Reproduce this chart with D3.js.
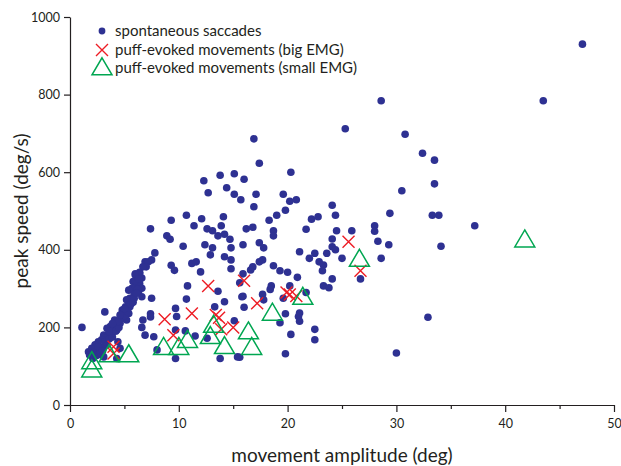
<!DOCTYPE html>
<html>
<head>
<meta charset="utf-8">
<script src="https://cdn.jsdelivr.net/npm/d3@7"></script>
<style>
  body { margin: 0; background: #fff; }
  text { font-family: Lato, "Open Sans", sans-serif; fill: #231f20; }
</style>
</head>
<body>
<svg id="chart"></svg>
<script>
// spontaneous saccades: [amplitude (deg), peak speed (deg/s)]
const saccades = [
  [47.1,930],[28.6,784],[43.5,784],[25.3,712],[30.8,698],[32.4,649],[33.5,631],[33.5,570],[30.5,552],
  [24.1,515],[24.4,489],[29.4,494],[33.3,489],[33.9,489],[37.2,462],[28.0,462],[28.0,448],[24.5,449],
  [25.9,449],[24.1,428],[28.3,422],[29.3,413],[34.1,409],[24.1,408],[24.4,400],[25.0,378],[28.6,378],
  [26.7,325],[32.9,226],[30.0,134],
  [17.4,623],[20.3,600],[17.1,543],[19.6,543],[16.9,511],[20.2,525],[20.8,529],[19.8,502],[19.0,489],
  [18.3,476],[16.8,458],[18.7,449],[18.7,436],[21.7,453],[22.2,479],[22.8,485],[17.4,418],[17.8,405],
  [21.1,395],[22.5,391],[22.0,378],[23.6,391],[17.7,374],[17.4,369],[16.8,356],[16.6,348],[18.7,359],
  [19.3,346],[20.0,342],[22.9,369],[23.3,361],[23.2,346],[20.9,329],[24.1,325],[23.3,307],[23.8,302],
  [18.5,307],[18.4,298],[20.2,307],[17.7,285],[17.8,271],[19.6,275],[21.7,290],[19.8,235],[21.1,237],
  [21.0,228],[21.1,216],[19.3,212],[20.3,182],[22.5,195],[22.5,168],[15.8,279],[16.0,252],[19.8,132],
  [15.6,123],
  [16.9,686],[13.8,592],[15.1,596],[16.0,582],[12.3,578],[14.4,560],[12.7,547],[15.1,543],[15.7,529],
  [10.7,489],[9.3,476],[12.1,480],[11.4,462],[12.6,454],[13.1,449],[14.1,485],[13.9,462],[13.6,436],
  [14.2,440],[14.7,427],[16.2,454],[7.4,454],[8.9,436],[9.2,427],[10.4,409],[12.4,413],[13.1,405],
  [14.8,405],[15.9,413],[7.8,392],[7.5,374],[12.9,387],[14.2,382],[14.8,374],[14.8,351],[9.3,360],
  [9.6,347],[11.2,365],[11.6,369],[12.0,343],[15.9,338],[15.6,315],[10.8,307],[13.6,293],[15.9,280],
  [10.7,273],[7.5,275],
  [14.2,266],[13.3,253],[9.7,249],[9.8,228],[9.7,193],[10.6,191],[11.5,178],[9.7,120],[12.6,172],
  [13.8,120],[15.1,217],[15.4,124],[7.4,235],
  [6.9,369],[7.2,369],[7.0,356],[6.7,356],[6.0,338],[6.4,342],[6.6,327],[6.4,339],[6.0,335],[5.8,318],
  [6.4,313],[6.1,309],[6.6,301],[5.7,301],[5.4,296],[6.3,292],[6.6,279],[5.5,275],[5.2,271],[5.4,258],
  [5.1,253],[5.5,253],[4.8,245],[4.9,236],[5.4,236],[5.2,219],[3.2,240],[4.1,219],[4.6,211],[4.1,206],
  [4.0,198],[4.3,193],[3.7,202],[3.4,198],[3.8,185],[3.5,180],[3.1,180],[3.2,172],[2.9,168],[2.6,163],
  [2.3,155],[2.0,146],[1.7,137],[1.8,129],[2.3,137],[2.8,146],[3.1,150],[3.2,163],[3.4,155],[4.4,163],
  [4.6,146],[4.3,120],[3.1,124],[1.1,200],[6.7,219],[6.6,200],[6.9,180],[7.4,227],[7.7,176],[8.0,142],
  [2.1,120],[2.5,128],[2.8,135],[3.6,170],[3.9,175],[4.2,190],[4.5,200],[4.7,225],[5.0,230],[5.6,260],
  [5.8,265],[5.9,285],[6.2,298],[6.0,320],[6.3,325],[5.3,240],[4.4,215],[2.6,150],[2.0,130],[3.0,140],
  [3.6,190],[5.9,275],[6.1,288],[5.0,248],[4.6,232],[3.9,210]
];

// puff-evoked movements (big EMG)
const bigEMG = [
  [4.0,150],[4.0,133],[8.7,221],[9.5,180],[11.2,236],[12.7,307],[13.4,232],[13.7,225],[13.9,195],
  [15.0,200],[16.0,320],[17.2,262],[19.9,290],[20.2,285],[20.8,281],[25.6,421],[26.7,346]
];

// puff-evoked movements (small EMG)
const smallEMG = [
  [2.0,111],[2.0,90],[3.6,129],[5.4,129],[8.6,148],[10.0,148],[10.8,166],[12.9,176],[13.2,205],
  [14.2,150],[16.4,188],[16.7,148],[18.6,236],[21.4,277],[26.6,375],[41.8,425]
];

const xMajor = [0, 10, 20, 30, 40, 50];
const xMinor = [5, 15, 25, 35, 45];
const yTicks = [0, 200, 400, 600, 800, 1000];

const legendLabels = [
  "spontaneous saccades",
  "puff-evoked movements (big EMG)",
  "puff-evoked movements (small EMG)"
];

const W = 621, H = 466;
const blue = "#2e3192", red = "#ed1c24", green = "#00a651", ink = "#231f20";

const svg = d3.select("#chart").attr("width", W).attr("height", H);

const x = d3.scaleLinear().domain([0, 50]).range([70, 614]);
const y = d3.scaleLinear().domain([0, 1000]).range([405, 17]);

// axes
const xMinorAxis = svg.append("g")
  .attr("transform", `translate(0,${y(0)})`)
  .call(d3.axisBottom(x).tickValues(xMinor).tickSize(4).tickSizeOuter(0).tickFormat(""));
xMinorAxis.select(".domain").remove();

const xAxis = svg.append("g")
  .attr("transform", `translate(0,${y(0)})`)
  .call(d3.axisBottom(x).tickValues(xMajor).tickSize(7).tickSizeOuter(0).tickPadding(7));

const yAxis = svg.append("g")
  .attr("transform", `translate(${x(0)},0)`)
  .call(d3.axisLeft(y).tickValues(yTicks).tickSize(6).tickSizeOuter(0).tickPadding(4)
    .tickFormat(d3.format("d")));

svg.selectAll(".tick line, .domain").attr("stroke", ink).attr("stroke-width", 1.2);
svg.selectAll(".tick text")
  .attr("font-family", "Lato, 'Open Sans', sans-serif")
  .attr("font-size", 12.5)
  .attr("fill", ink);

// axis titles
svg.append("text")
  .attr("x", (x(0) + x(50)) / 2)
  .attr("y", 462)
  .attr("text-anchor", "middle")
  .attr("font-size", 19)
  .text("movement amplitude (deg)");

svg.append("text")
  .attr("transform", `translate(28,${(y(0) + y(1000)) / 2}) rotate(-90)`)
  .attr("text-anchor", "middle")
  .attr("font-size", 19)
  .text("peak speed (deg/s)");

// marker helpers
function cross(g, cx, cy, s) {
  g.append("path")
    .attr("d", `M${cx - s},${cy - s}L${cx + s},${cy + s}M${cx - s},${cy + s}L${cx + s},${cy - s}`)
    .attr("stroke", red).attr("stroke-width", 1.4).attr("fill", "none");
}
function triangle(g, cx, cy, s) {
  const h = s * 1.7;
  g.append("path")
    .attr("d", `M${cx},${cy - h * 0.6}L${cx + s},${cy + h * 0.4}L${cx - s},${cy + h * 0.4}Z`)
    .attr("stroke", green).attr("stroke-width", 1.5).attr("fill", "none");
}

const marks = svg.append("g");

marks.selectAll("circle.sac")
  .data(saccades)
  .join("circle")
  .attr("class", "sac")
  .attr("cx", d => x(d[0]))
  .attr("cy", d => y(d[1]))
  .attr("r", 3.8)
  .attr("fill", blue);

const xg = marks.append("g");
bigEMG.forEach(d => cross(xg, x(d[0]), y(d[1]), 6));

const tg = marks.append("g");
smallEMG.forEach(d => triangle(tg, x(d[0]), y(d[1]), 10));

// legend
const legend = svg.append("g");
const rowY = [31, 50, 68];
legend.append("circle").attr("cx", 102).attr("cy", rowY[0]).attr("r", 3.4).attr("fill", blue);
cross(legend, 102, rowY[1], 6);
triangle(legend, 102, rowY[2], 10);
legend.selectAll("text")
  .data(legendLabels)
  .join("text")
  .attr("x", 115)
  .attr("y", (d, i) => rowY[i] + 5)
  .attr("font-size", 15)
  .text(d => d);
</script>
</body>
</html>
